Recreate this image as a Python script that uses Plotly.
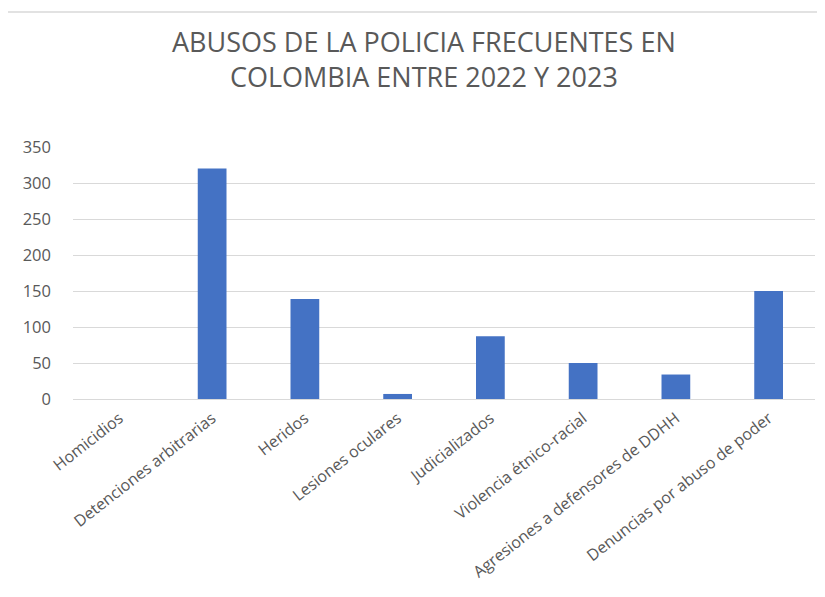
import plotly.graph_objects as go

categories = ["Homicidios", "Detenciones arbitrarias", "Heridos", "Lesiones oculares",
              "Judicializados", "Violencia étnico-racial", "Agresiones a defensores de DDHH",
              "Denuncias por abuso de poder"]
values = [0, 320, 139, 7, 87, 50, 34, 150]
y_ticks = [0, 50, 100, 150, 200, 250, 300, 350]
title_lines = ["ABUSOS DE LA POLICIA FRECUENTES EN", "COLOMBIA ENTRE 2022 Y 2023"]

FONT = "Open Sans, Lato, sans-serif"
OFF = 8  # page body margin
W, H = 825 - 2 * OFF, 597 - 2 * OFF
L, R, T, B = 73 - OFF, 10 - OFF, 147 - OFF, 198 - OFF
pw, ph = W - L - R, H - T - B


def px_to_paper_y(py):
    # py: pixel y in the screenshot
    return (399 - py) / ph


def px_to_paper_x(px):
    return (px - 73) / pw


fig = go.Figure(go.Bar(x=categories, y=values, marker_color="#4472C4",
                       marker_line_width=0))

fig.update_layout(
    width=W, height=H,
    margin=dict(l=L, r=R, t=T, b=B, autoexpand=False),
    paper_bgcolor="white", plot_bgcolor="white",
    bargap=0.69,
    showlegend=False,
    font=dict(family=FONT, color="#595959", size=15),
)
fig.add_annotation(text="<br>".join(title_lines), xref="paper", yref="paper",
                   x=px_to_paper_x(424), y=px_to_paper_y(59.5),
                   xanchor="center", yanchor="middle", showarrow=False, align="center",
                   font=dict(size=27, color="#595959", family=FONT))

fig.update_xaxes(tickangle=-38, showgrid=False, showline=False, ticks="",
                 automargin=False, ticklabelstandoff=6,
                 tickfont=dict(size=16, color="#595959"))
fig.update_yaxes(range=[0, 350], tickvals=y_ticks, showgrid=True, gridcolor="#D9D9D9",
                 gridwidth=1, zeroline=True, zerolinecolor="#D9D9D9", zerolinewidth=1,
                 automargin=False,
                 tickfont=dict(size=16.5, color="#595959"), ticks="", ticklabelstandoff=21)

# chart frame (outer border of the original chart area)
bx = px_to_paper_x(7)
by = px_to_paper_y(12)
fig.add_shape(type="line", xref="paper", yref="paper", x0=bx, x1=2, y0=by, y1=by,
              line=dict(color="#D9D9D9", width=1.5))
fig.add_shape(type="line", xref="paper", yref="paper", x0=bx, x1=bx, y0=-2, y1=by,
              line=dict(color="#D9D9D9", width=1.5))

fig.write_html("out.html")
